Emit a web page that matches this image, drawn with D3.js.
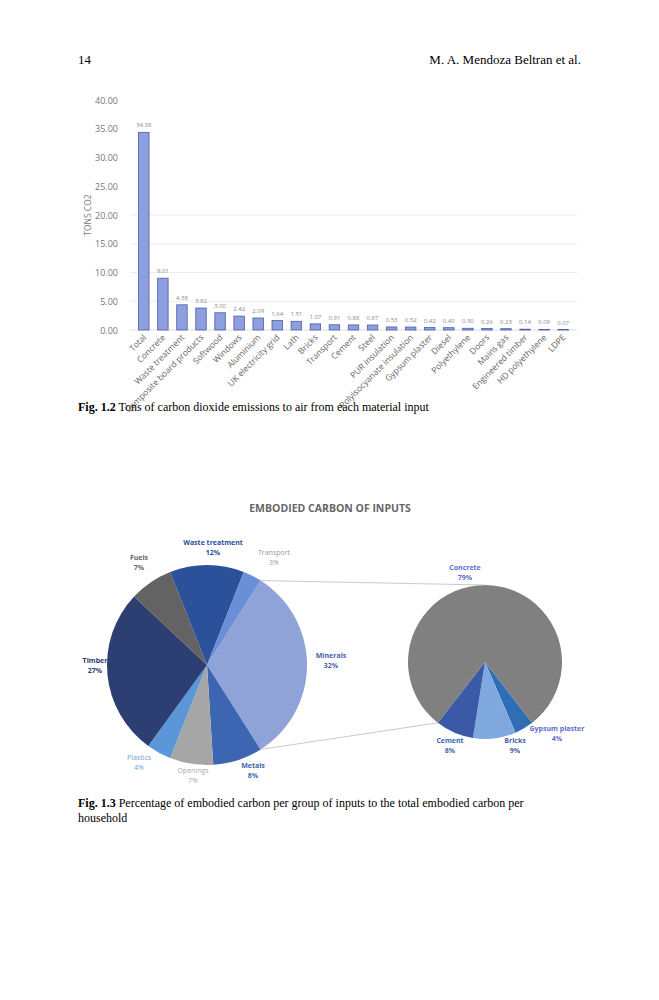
<!DOCTYPE html><html><head><meta charset="utf-8">
<script src="https://cdn.jsdelivr.net/npm/d3@7"></script>
<style>body{margin:0;background:#fff}</style></head><body>
<svg id="s" width="659" height="1000"></svg>
<script>
const barCats=["Total","Concrete","Waste treatment","Composite board products","Softwood","Windows","Aluminium","UK electricity grid","Lath","Bricks","Transport","Cement","Steel","PUR insulation","Polyisocyanate insulation","Gypsum plaster","Diesel","Polyethylene","Doors","Mains gas","Engineered timber","HD polyethylene","LDPE"];
const barVals=[34.38,9.01,4.38,3.82,3.00,2.42,2.09,1.64,1.51,1.07,0.91,0.88,0.87,0.53,0.52,0.42,0.40,0.30,0.26,0.23,0.14,0.09,0.07];
const yTicks=[0,5,10,15,20,25,30,35,40];
const pieCats=["Minerals","Metals","Openings","Plastics","Timber","Fuels","Waste treatment","Transport"];
const pieVals=[32,8,7,4,27,7,12,3];
const pieColors=["#8fa3d8","#3d66b2","#a6a6a6","#5b97d8","#2c3e72","#636363","#2a5199","#6a8fd8"];
const subCats=["Gypsum plaster","Bricks","Cement","Concrete"];
const subVals=[4,9,8,79];
const subColors=["#2f6db5","#7fa9de","#3a5aa8","#808080"];

const svg=d3.select("#s");
const serif="'Liberation Serif','DejaVu Serif',serif";
svg.append("text").attr("x",78).attr("y",64).attr("font-family",serif).attr("font-size",13).text("14");
svg.append("text").attr("x",581).attr("y",64).attr("text-anchor","end").attr("font-family",serif).attr("font-size",13).text("M. A. Mendoza Beltran et al.");

// bar chart
const x=d3.scaleBand().domain(barCats).range([130,577]).padding(0.45);
const y=d3.scaleLinear().domain([0,40]).range([330,100]);
const g=svg.append("g").attr("font-family","'Open Sans',sans-serif");
yTicks.forEach(t=>{
  if(t>0) g.append("line").attr("x1",130).attr("x2",577).attr("y1",y(t)).attr("y2",y(t)).attr("stroke",t<=20?"#ececec":"none");
  g.append("text").attr("x",118).attr("y",y(t)+3.5).attr("text-anchor","end").attr("font-size",9).attr("fill","#777").text(t.toFixed(2));
});
g.append("line").attr("x1",130).attr("x2",577).attr("y1",y(0)).attr("y2",y(0)).attr("stroke","#ddd");
g.append("text").attr("transform","translate(91,215) rotate(-90)").attr("text-anchor","middle").attr("font-size",8.5).attr("fill","#777").text("TONS CO2");
g.selectAll("rect").data(barVals).join("rect").attr("x",(d,i)=>x(barCats[i])).attr("y",d=>y(d)).attr("width",x.bandwidth()).attr("height",d=>y(0)-y(d)).attr("fill","#8e9fdf").attr("stroke","#4a5fa8").attr("stroke-width",0.8);
g.selectAll(".vl").data(barVals).join("text").attr("x",(d,i)=>x(barCats[i])+x.bandwidth()/2).attr("y",d=>y(d)-5).attr("text-anchor","middle").attr("font-size",6).attr("fill","#888").text(d=>d.toFixed(2));
barCats.forEach(c=>{
  g.append("text").attr("transform",`translate(${x(c)+x.bandwidth()/2+3},${y(0)+8}) rotate(-45)`).attr("text-anchor","end").attr("font-size",8.5).attr("fill","#666").text(c);
});
svg.append("text").attr("x",78).attr("y",411).attr("font-family",serif).attr("font-size",12).html('<tspan font-weight="bold">Fig. 1.2</tspan>   Tons of carbon dioxide emissions to air from each material input');

// pie of pie
const deg=Math.PI/180;
svg.append("text").attr("x",330).attr("y",512).attr("text-anchor","middle").attr("font-family","'Open Sans',sans-serif").attr("font-weight","bold").attr("font-size",10.5).attr("fill","#666").text("EMBODIED CARBON OF INPUTS");
const cx1=207,cy1=665,r1=100,cx2=485,cy2=662,r2=77;
const start1=(90-0.32*180)*deg;
const pie1=d3.pie().sort(null).startAngle(start1).endAngle(start1+2*Math.PI)(pieVals);
const arc1=d3.arc().innerRadius(0).outerRadius(r1);
svg.append("g").attr("transform",`translate(${cx1},${cy1})`).selectAll("path").data(pie1).join("path").attr("d",arc1).attr("fill",(d,i)=>pieColors[i]);
const start2=(180-0.21*180)*deg;
const pie2=d3.pie().sort(null).startAngle(start2).endAngle(start2+2*Math.PI)(subVals);
const arc2=d3.arc().innerRadius(0).outerRadius(r2);
svg.append("g").attr("transform",`translate(${cx2},${cy2})`).selectAll("path").data(pie2).join("path").attr("d",arc2).attr("fill",(d,i)=>subColors[i]);
const p=(cx,cy,r,a)=>[cx+r*Math.sin(a),cy-r*Math.cos(a)];
const a0=p(cx1,cy1,r1,pie1[0].startAngle),a1=p(cx1,cy1,r1,pie1[0].endAngle);
const b0=p(cx2,cy2,r2,0),b1=p(cx2,cy2,r2,pie2[2].endAngle);
[[a0,b0],[a1,b1]].forEach(([s,e])=>svg.append("line").attr("x1",s[0]).attr("y1",s[1]).attr("x2",e[0]).attr("y2",e[1]).attr("stroke","#bbb").attr("stroke-width",0.8));
const lab=[["Waste treatment","12%",213,545,"#2a5199",true],["Transport","3%",274,555,"#999",false],["Fuels","7%",139,560,"#666",true],["Timber","27%",95,663,"#2c3e72",true],["Minerals","32%",331,658,"#4a5fa8",true],["Plastics","4%",139,760,"#6a9fd8",false],["Openings","7%",193,773,"#aaa",false],["Metals","8%",253,768,"#3d66b2",true],["Concrete","79%",465,570,"#5a6fc8",true],["Gypsum plaster","4%",557,731,"#5a6fc8",true],["Bricks","9%",515,743,"#4a5fa8",true],["Cement","8%",450,743,"#3d66b2",true]];
lab.forEach(([n,v,lx,ly,c,b])=>{
  const t=svg.append("text").attr("text-anchor","middle").attr("font-family","'Open Sans',sans-serif").attr("font-size",7).attr("fill",c).attr("font-weight",b?"bold":"normal");
  t.append("tspan").attr("x",lx).attr("y",ly).text(n);
  t.append("tspan").attr("x",lx).attr("y",ly+10).text(v);
});
const cap=svg.append("text").attr("font-family",serif).attr("font-size",12);
cap.append("tspan").attr("x",78).attr("y",807).html('<tspan font-weight="bold">Fig. 1.3</tspan>   Percentage of embodied carbon per group of inputs to the total embodied carbon per');
cap.append("tspan").attr("x",78).attr("y",822).text("household");
</script></body></html>
